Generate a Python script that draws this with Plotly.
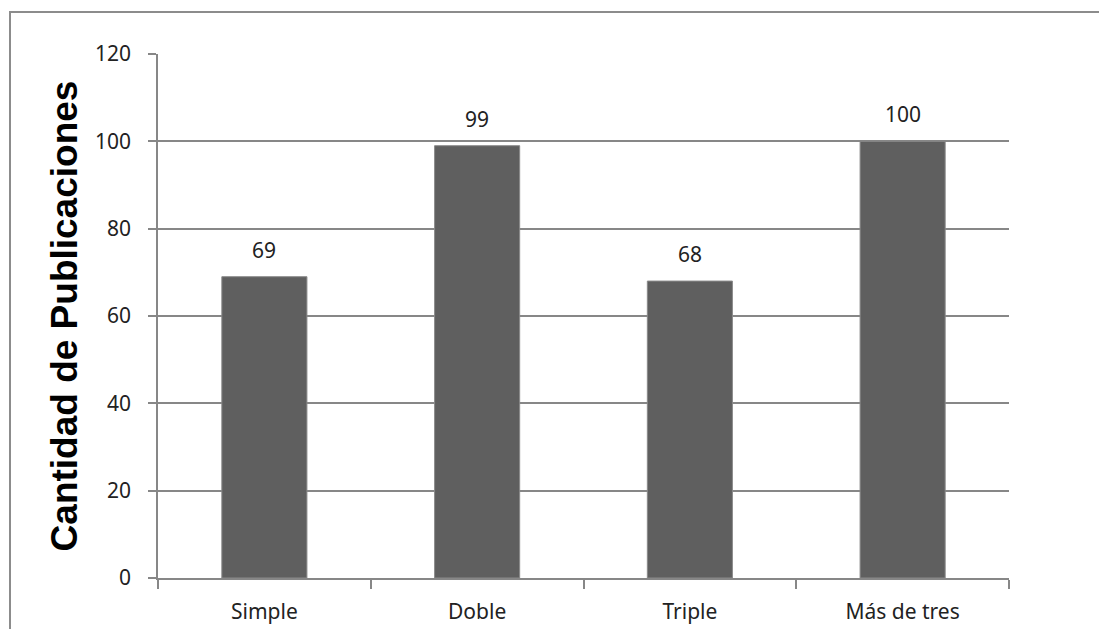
import plotly.graph_objects as go

categories = ["Simple", "Doble", "Triple", "Más de tres"]
values = [69, 99, 68, 100]
y_ticks = [0, 20, 40, 60, 80, 100, 120]

ML, MR, MT, MB = 158, 90, 54, 51
W, H = 1099, 629
pw, ph = W - ML - MR, H - MT - MB
FONT = "Noto Sans, Open Sans, sans-serif"

fig = go.Figure(go.Bar(
    x=categories, y=values,
    marker=dict(color="#5f5f5f", line=dict(color="#8a8a8a", width=1)),
    width=0.4,
))

annotations = [dict(x=c, y=v, text=str(v), showarrow=False, yanchor="bottom",
                    yshift=11, font=dict(family=FONT, size=21, color="#222"))
               for c, v in zip(categories, values)]

fig.update_layout(
    width=W, height=H,
    margin=dict(l=ML, r=MR, t=MT, b=MB),
    plot_bgcolor="white", paper_bgcolor="white",
    showlegend=False,
    annotations=annotations,
    shapes=[dict(type="rect", xref="paper", yref="paper",
                 x0=(10 - ML) / pw, x1=1.3, y0=-0.3, y1=(H - MB - 12) / ph,
                 line=dict(color="#8c8c8c", width=2), layer="below")],
)
fig.update_xaxes(
    automargin=False,
    showline=True, linecolor="#878787", linewidth=1.5,
    ticks="outside", tickson="boundaries", ticklen=9, tickcolor="#878787", tickwidth=1.5,
    ticklabelstandoff=14,
    tickfont=dict(family=FONT, size=21, color="#222"),
    showgrid=False,
)
fig.update_yaxes(
    automargin=False,
    range=[0, 120], tickvals=y_ticks, showline=True, linecolor="#878787", linewidth=1.5,
    ticks="outside", ticklen=8, tickcolor="#878787", tickwidth=1.5,
    ticklabelstandoff=13,
    showgrid=True, gridcolor="#878787", gridwidth=1.5, zeroline=False,
    tickfont=dict(family=FONT, size=21, color="#222"),
    title=dict(text="Cantidad de Publicaciones", standoff=6,
               font=dict(family="Liberation Sans, Arial, sans-serif", size=37, color="black", weight="bold")),
)

fig.write_html("out.html")
